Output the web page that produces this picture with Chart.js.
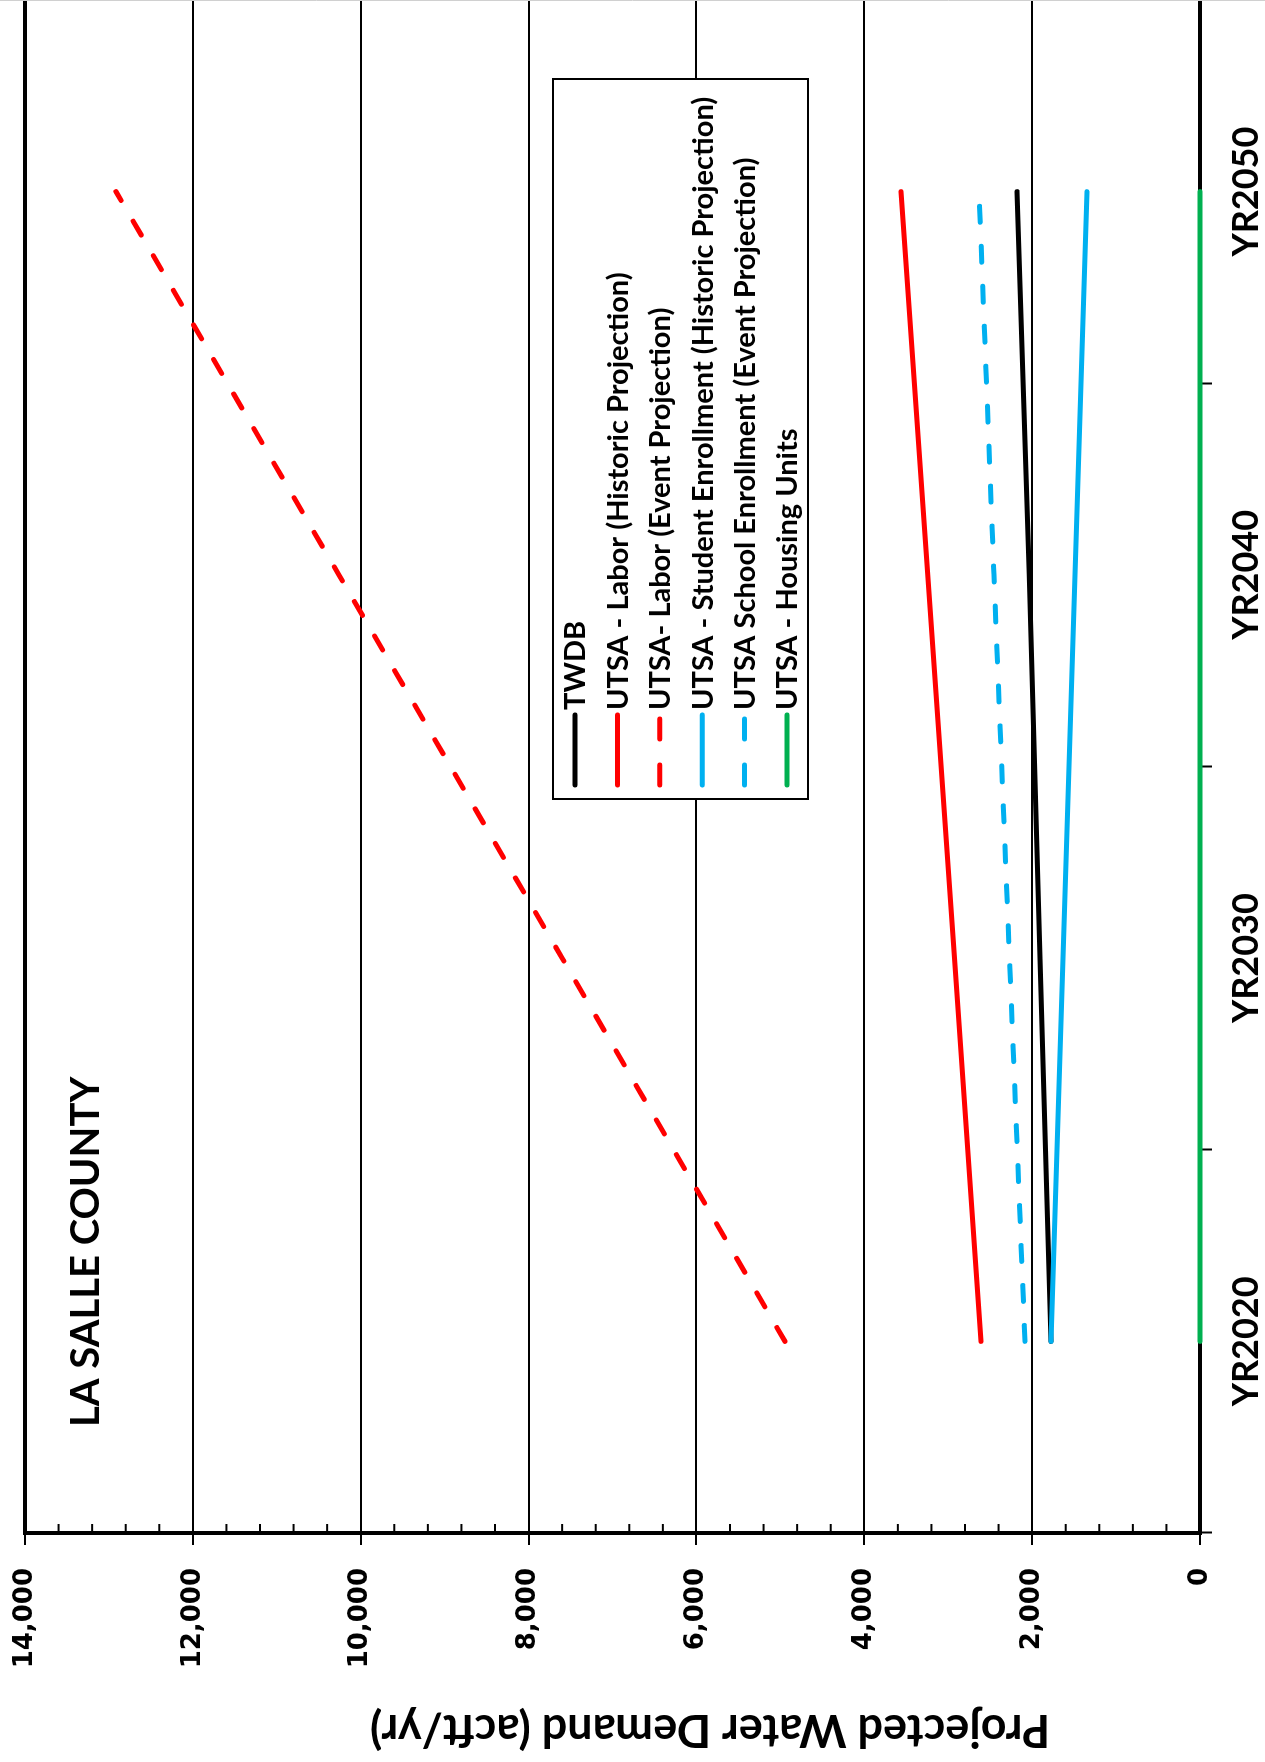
<!DOCTYPE html>
<html>
<head>
<meta charset="utf-8">
<title>La Salle County - Projected Water Demand</title>
<script src="https://cdn.jsdelivr.net/npm/chart.js@4.4.1/dist/chart.umd.min.js"></script>
<style>
    html, body { margin: 0; padding: 0; background: #fff; }
    #page { position: relative; width: 1265px; height: 1762px; overflow: hidden; }
    /* the chart is built landscape then turned a quarter turn to the left */
    #chart { position: absolute; left: 0; top: 0; transform-origin: 0 0; transform: translate(0, 1762px) rotate(-90deg); }
</style>
</head>
<body>
<div id="page"><canvas id="chart" width="1762" height="1265"></canvas></div>
<script>
const years = ['YR2020', 'YR2030', 'YR2040', 'YR2050'];
const seriesNames = [
    'TWDB',
    'UTSA - Labor (Historic Projection)',
    'UTSA- Labor (Event Projection)',
    'UTSA - Student Enrollment (Historic Projection)',
    'UTSA School Enrollment (Event Projection)',
    'UTSA - Housing Units'
];
const twdb = [1775, 1906, 2035, 2180];
const laborHistoric = [2609, 2925, 3245, 3562];
const laborEvent = [4945, 7600, 10260, 12916];
const studentHistoric = [1775, 1632, 1489, 1346];
const schoolEvent = [2085, 2270, 2455, 2633];
const housingUnits = [0, 0, 0, 0];
const yMin = 0, yMax = 14000, yStep = 2000, yMinorStep = 400;
const countyName = 'LA SALLE COUNTY';
const yTitle = 'Projected Water Demand (acft/yr)';

const seriesColors = ['#000000', '#FF0000', '#FF0000', '#00B0F0', '#00B0F0', '#00B050'];
const seriesDash = [[], [], [16, 24], [], [16, 24], []];
const seriesData = [twdb, laborHistoric, laborEvent, studentHistoric, schoolEvent, housingUnits];

const titleFont = 'bold 40px Lato';
const axisTitleFont = 'bold 45px Lato';
const legendFont = 'bold 29px Lato';

// minor ticks pointing into the plot, title, axis title, boxed legend
const decorations = {
    id: 'decorations',
    beforeDatasetsDraw(chart) {
        const ctx = chart.ctx, y = chart.scales.y, area = chart.chartArea;
        ctx.save();
        ctx.strokeStyle = '#000';
        ctx.lineWidth = 2;
        for (let v = yMin; v <= yMax; v += yMinorStep) {
            if (v % yStep == 0) continue;
            const py = y.getPixelForValue(v);
            ctx.beginPath();
            ctx.moveTo(area.left, py);
            ctx.lineTo(area.left + 9, py);
            ctx.stroke();
        }
        // thin outer edge of the chart
        ctx.strokeStyle = '#d0d0d0';
        ctx.lineWidth = 1;
        ctx.beginPath();
        ctx.moveTo(chart.width - 0.5, 0);
        ctx.lineTo(chart.width - 0.5, chart.height);
        ctx.stroke();
        ctx.restore();
    },
    afterDraw(chart) {
        const ctx = chart.ctx, area = chart.chartArea;
        ctx.save();
        ctx.fillStyle = '#000';

        ctx.font = titleFont;
        ctx.textAlign = 'left';
        ctx.textBaseline = 'middle';
        ctx.fillText(countyName, area.left + 106, area.top + 61);

        ctx.save();
        ctx.font = axisTitleFont;
        ctx.textAlign = 'center';
        ctx.translate(32, area.bottom - 490);
        ctx.rotate(-Math.PI / 2);
        ctx.fillText(yTitle, 0, 0);
        ctx.restore();

        // legend
        const box = { x: 963, y: 553, w: 720, h: 255 };
        ctx.strokeStyle = '#000';
        ctx.lineWidth = 2;
        ctx.fillStyle = '#fff';
        ctx.fillRect(box.x, box.y, box.w, box.h);
        ctx.strokeRect(box.x, box.y, box.w, box.h);
        ctx.font = legendFont;
        ctx.textBaseline = 'middle';
        chart.data.datasets.forEach((ds, i) => {
            const ry = box.y + 22 + i * 42.4;
            ctx.strokeStyle = ds.borderColor;
            ctx.lineWidth = 5;
            ctx.lineCap = 'round';
            ctx.setLineDash(ds.borderDash.length ? [20, 26] : []);
            ctx.beginPath();
            ctx.moveTo(box.x + 14, ry);
            ctx.lineTo(box.x + 84, ry);
            ctx.stroke();
            ctx.setLineDash([]);
            ctx.fillStyle = '#000';
            ctx.fillText(ds.label, box.x + 89, ry + 1);
        });
        ctx.restore();
    }
};

const ctx = document.getElementById('chart').getContext('2d');
const myChart = new Chart(ctx, {
    type: 'line',
    data: {
        labels: years,
        datasets: seriesNames.map((name, i) => ({
            label: name,
            data: seriesData[i],
            borderColor: seriesColors[i],
            borderDash: seriesDash[i],
            borderWidth: 5,
            borderCapStyle: 'round',
            pointRadius: 0,
            tension: 0,
            clip: false,
            // later series sit on top, as in the original
            order: seriesNames.length - i
        }))
    },
    options: {
        responsive: false,
        animation: false,
        devicePixelRatio: 1,
        layout: { padding: { top: 25, right: 0, bottom: 0, left: 0 } },
        plugins: {
            legend: { display: false },
            tooltip: { enabled: false }
        },
        scales: {
            x: {
                offset: true,
                grid: { offset: true, drawOnChartArea: false, tickLength: 12, color: '#000', tickWidth: 2 },
                border: { color: '#000', width: 4 },
                ticks: {
                    padding: 13, color: '#000', maxRotation: 0, autoSkip: false,
                    font: { family: 'Lato', weight: 'bold', size: 36 }
                },
                afterFit: s => { s.height = 65; s.paddingLeft = 0; s.paddingRight = 0; }
            },
            y: {
                min: yMin,
                max: yMax,
                grid: {
                    color: '#000',
                    lineWidth: c => c.tick.value == yMax ? 4 : 2,
                    tickLength: 12,
                    tickWidth: 2,
                    tickColor: '#000'
                },
                border: { color: '#000', width: 4 },
                ticks: {
                    stepSize: yStep, padding: 23, color: '#000',
                    font: { family: 'DejaVu Sans', weight: 'bold', size: 26 },
                    callback: v => v.toLocaleString('en-US')
                },
                afterFit: s => { s.width = 229; s.paddingTop = 0; s.paddingBottom = 0; }
            }
        }
    },
    plugins: [decorations]
});
</script>
</body>
</html>
